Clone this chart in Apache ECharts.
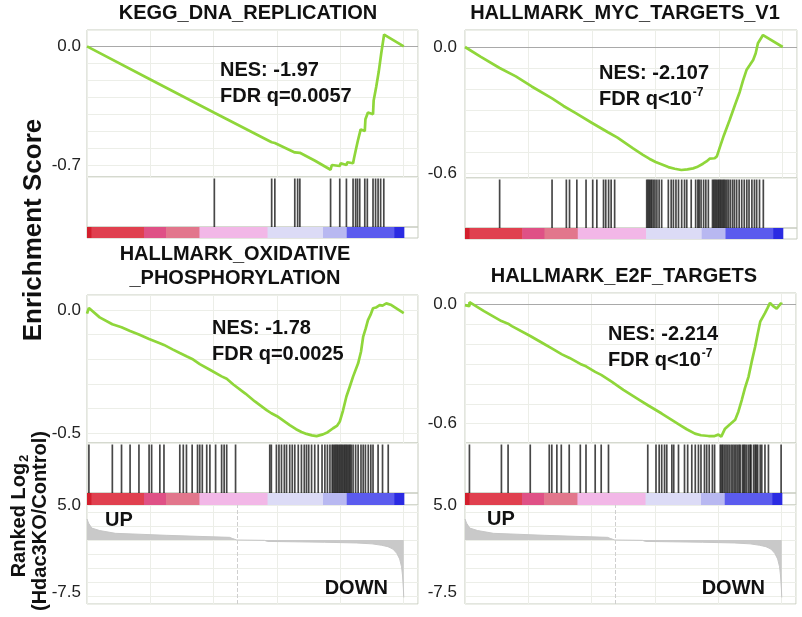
<!DOCTYPE html>
<html><head><meta charset="utf-8">
<script src="https://cdn.jsdelivr.net/npm/echarts@6/dist/echarts.min.js"></script>
<style>html,body{margin:0;padding:0;background:#fff}#c{width:802px;height:617px}</style>
</head><body><div id="c"></div>
<script>
// ---------------- DATA ----------------
const panelTitles = ['KEGG_DNA_REPLICATION', 'HALLMARK_MYC_TARGETS_V1', 'HALLMARK_OXIDATIVE\n_PHOSPHORYLATION', 'HALLMARK_E2F_TARGETS'];
const nesTexts = ['NES: -1.97', 'NES: -2.107', 'NES: -1.78', 'NES: -2.214'];
const fdrTexts = ['FDR q=0.0057', 'FDR q<10', 'FDR q=0.0025', 'FDR q<10'];
const fdrExponents = ['', '-7', '', '-7'];
const esTickLabels = [[0, -0.7], [0, -0.6], [0, -0.5], [0, -0.6]];
const rankedTickLabels = [5, -7.5];
const yTitle = 'Enrichment Score';
const rankedTitle1 = 'Ranked Log';
const rankedTitle2 = '(Hdac3KO/Control)';
const upText = 'UP';
const downText = 'DOWN';

// running enrichment score: [rank %, ES]
const esKegg = [[0,0],[20,-0.195],[40.2,-0.392],[40.2,-0.386],[58.3,-0.566],[58.3,-0.56],[59.3,-0.57],[59.3,-0.564],[65.6,-0.626],[65.6,-0.618],[66.5,-0.627],[66.5,-0.62],[67.2,-0.628],[67.2,-0.622],[72,-0.675],[76.9,-0.728],[77.3,-0.700],[77.8,-0.697],[79.8,-0.706],[80.1,-0.69],[81.9,-0.70],[82.2,-0.684],[84.0,-0.69],[84.3,-0.66],[84.8,-0.665],[85.0,-0.6],[85.4,-0.605],[85.6,-0.55],[86.1,-0.555],[86.4,-0.49],[87.7,-0.5],[87.9,-0.43],[88.5,-0.435],[88.7,-0.39],[90.3,-0.4],[90.5,-0.32],[91.1,-0.325],[91.3,-0.24],[91.9,-0.245],[92.1,-0.15],[92.7,-0.155],[92.9,-0.04],[93.5,-0.045],[93.8,0.07],[100,0.0]];
const esMyc = [[0,0],[5,-0.047],[10.9,-0.1],[11.2,-0.096],[16,-0.14],[21,-0.188],[27.4,-0.245],[31,-0.281],[35,-0.316],[40,-0.362],[45,-0.406],[48,-0.432],[52.9,-0.483],[56,-0.514],[58,-0.532],[60,-0.548],[62.4,-0.562],[64,-0.572],[66,-0.58],[68.1,-0.586],[70,-0.583],[71.8,-0.578],[73,-0.572],[74.9,-0.556],[76,-0.545],[77,-0.532],[78.6,-0.53],[79.3,-0.52],[80.2,-0.478],[81.5,-0.42],[83.3,-0.348],[85,-0.275],[86.5,-0.213],[87.5,-0.16],[88.6,-0.11],[89.7,-0.085],[90.7,-0.062],[91.5,-0.03],[92.2,0.018],[93.8,0.057],[100,0]];
const esOxphos = [[0,-0.015],[0.6,-0.02],[0.6,0.008],[4,-0.03],[8,-0.058],[8.1,-0.05],[10.9,-0.07],[11,-0.064],[13.6,-0.085],[13.7,-0.079],[16.4,-0.1],[16.5,-0.094],[19.6,-0.118],[19.7,-0.113],[23,-0.135],[24.3,-0.142],[27,-0.16],[29.3,-0.175],[31.4,-0.188],[33.2,-0.199],[35.6,-0.22],[38.8,-0.243],[42.5,-0.27],[44.1,-0.28],[46.2,-0.303],[50,-0.34],[53,-0.372],[56.7,-0.407],[58.2,-0.42],[60,-0.432],[62,-0.45],[64,-0.468],[66,-0.485],[67.7,-0.496],[69.3,-0.504],[71,-0.51],[72.5,-0.513],[74.5,-0.506],[76,-0.497],[77.7,-0.481],[79,-0.47],[79.8,-0.454],[80.8,-0.41],[81.9,-0.352],[83,-0.31],[84,-0.271],[85.6,-0.217],[86.5,-0.17],[87.2,-0.108],[88,-0.075],[88.7,-0.041],[89.5,-0.02],[90.3,0.007],[91.2,0.01],[92.4,0.02],[93.3,0.018],[94.5,0.027],[95.1,0.022],[96.1,0.02],[100,-0.013]];
const esE2f = [[0,-0.005],[1.4,-0.01],[1.4,0.01],[6,-0.035],[11.5,-0.085],[11.6,-0.08],[13.6,-0.098],[14.8,-0.11],[20.6,-0.16],[25,-0.2],[27.4,-0.222],[30.6,-0.252],[33,-0.27],[36.4,-0.3],[38.2,-0.312],[41.1,-0.34],[43,-0.355],[46.4,-0.39],[50,-0.43],[55,-0.48],[58,-0.51],[62.1,-0.549],[65,-0.578],[68,-0.608],[70,-0.628],[72.6,-0.65],[74.5,-0.658],[76.9,-0.662],[78.8,-0.662],[80,-0.655],[80.9,-0.665],[82.1,-0.625],[83.5,-0.605],[85.3,-0.58],[86.3,-0.54],[87.4,-0.48],[88.4,-0.42],[89.5,-0.365],[90.5,-0.29],[91.6,-0.214],[92.4,-0.15],[93.2,-0.088],[94.0,-0.065],[94.7,-0.045],[95.5,-0.02],[96.3,0.006],[97.3,-0.01],[98.4,-0.022],[99.8,0.005],[100,0.0]];

// gene-set hit positions (rank %)
const hitsKegg = [40.2,58.3,59.3,65.6,66.5,67.2,76.9,79.8,81.9,84.0,84.8,85.4,86.1,87.7,88.5,90.3,91.1,91.9,92.7,93.7];
const hitsMyc = [10.9,27.4,31.9,32.9,35.2,38.1,40.2,41.5,43.6,44.3,45.2,46.0,47.1,57.2,57.6,58.0,58.4,58.8,59.3,59.8,60.4,61.1,61.9,64.0,64.9,65.6,66.4,67.2,68.2,69.1,69.8,71.2,72.6,73.3,73.7,74.3,75.1,75.8,76.6,77.9,78.3,78.7,79.1,79.5,79.9,80.3,80.7,81.1,81.5,81.9,82.4,82.9,83.5,84.2,84.8,85.5,86.3,87.1,87.9,88.7,89.4,90.3,91.1,91.8,92.7,93.9];
const hitsOxphos = [0.6,8.0,10.9,13.6,16.4,19.6,20.4,23.0,24.3,29.3,30.4,31.4,33.2,34.9,35.6,36.4,37.8,38.8,40.6,42.5,43.3,44.1,46.9,57.7,58.2,59.8,60.6,61.4,62.3,63.0,64.0,64.8,65.6,66.7,67.7,68.6,69.3,70.0,70.9,71.9,73.0,74.2,75.1,75.9,76.7,77.4,77.8,78.2,78.6,79.0,79.4,79.8,80.2,80.6,81.0,81.4,81.8,82.2,82.6,83.0,83.4,84.0,84.8,85.6,86.5,87.2,87.9,88.8,89.6,90.3,91.9,93.3,95.1];
const hitsE2f = [1.4,11.5,13.6,20.6,26.6,27.4,29.0,30.4,32.9,36.4,38.2,41.1,43.0,45.3,57.7,60.3,61.3,62.1,63.0,63.7,65.3,65.9,67.4,69.3,70.3,71.6,72.7,73.7,74.5,75.6,76.3,77.1,78.1,78.8,80.6,81.0,81.4,81.9,82.4,82.9,83.4,84.0,84.5,85.0,85.5,86.0,86.5,86.9,87.6,88.0,88.4,88.9,89.5,90.0,90.3,91.1,91.6,92.0,92.4,93.2,93.7,94.7,95.8,99.8];

// ranked list metric (rank %, value)
const rankedList = [[0,3.0],[0.5,2.4],[1.5,1.7],[4,1.35],[9,0.95],[14.5,0.86],[25,0.67],[35,0.52],[45,0.38],[46,0.2],[47.3,0],[56,-0.05],[57,-0.2],[65,-0.25],[75,-0.32],[85,-0.42],[90,-0.55],[93,-0.75],[95,-0.95],[96.6,-1.3],[97.8,-1.9],[98.7,-2.7],[99.3,-3.8],[99.6,-5.0],[99.9,-7.0],[100,-8.2]];
const rankedZeroCross = 47.3;

// colour bar of the ranked metric
const colorBarEdges = [0, 1.4, 18, 25, 35.5, 57, 74.5, 82, 97, 100];
const colorBarColors = ['#d31f2d', '#e0404f', '#df5186', '#e2768c', '#f2b7e7', '#dcdbf6', '#b8b8f1', '#5b5bee', '#2b2be2'];

const esData = [esKegg, esMyc, esOxphos, esE2f];
const hitsData = [hitsKegg, hitsMyc, hitsOxphos, hitsE2f];

// ---------------- LAYOUT ----------------
const FONT = '"Liberation Sans", Arial, Helvetica, sans-serif';
const layout = [
  {left: 87, width: 331, es: {top: 30, h: 147, min: -0.771, max: 0.097}, hits: {top: 177, h: 50}, bar: {top: 227, h: 11}, ranked: null, zero: true, labelMargin: 6,
   title: {x: 248, y: 13}, nes: {x: 220, y: 70}, up: null},
  {left: 465, width: 332, es: {top: 30, h: 148, min: -0.624, max: 0.081}, hits: {top: 178, h: 50}, bar: {top: 228, h: 11}, ranked: null, zero: true, labelMargin: 8,
   title: {x: 625, y: 13}, nes: {x: 599, y: 73}, up: null},
  {left: 87, width: 331, es: {top: 295, h: 148, min: -0.541, max: 0.061}, hits: {top: 443, h: 50}, bar: {top: 493, h: 12}, ranked: {top: 505, h: 99}, zero: false, labelMargin: 6,
   title: {x: 235, y: 266}, nes: {x: 212, y: 328}, up: {x: 105, y: 520}, down: {x: 388, y: 588}},
  {left: 465, width: 331, es: {top: 293, h: 150, min: -0.697, max: 0.056}, hits: {top: 443, h: 50}, bar: {top: 493, h: 12}, ranked: {top: 505, h: 99}, zero: true, labelMargin: 8,
   title: {x: 624, y: 276}, nes: {x: 608, y: 334}, up: {x: 487, y: 519}, down: {x: 765, y: 588}}
];
const XMAX = 104.5;
const BORDER = '#c7ccbf';
const SPLIT = '#eceee8';

const grid = [], xAxis = [], yAxis = [], series = [];
function addGrid(left, width, top, height, xSplit) {
  grid.push({left, width, top, height, show: true, borderColor: BORDER, borderWidth: 1, backgroundColor: 'rgba(0,0,0,0)', containLabel: false});
  const g = grid.length - 1;
  xAxis.push({gridIndex: g, type: 'value', min: 0, max: XMAX, interval: 20,
    axisLine: {show: false}, axisTick: {show: false}, axisLabel: {show: false},
    splitLine: {show: xSplit, lineStyle: {color: SPLIT, width: 1}}});
  return g;
}

layout.forEach((L, i) => {
  // ES panel
  let g = addGrid(L.left, L.width, L.es.top, L.es.h, true);
  yAxis.push({gridIndex: g, type: 'value', min: L.es.min, max: L.es.max, splitNumber: 8,
    axisLine: {show: false}, axisTick: {show: false},
    axisLabel: {customValues: esTickLabels[i], formatter: v => v.toFixed(1), fontSize: 17, color: '#222', fontFamily: FONT, margin: L.labelMargin},
    splitLine: {show: true, lineStyle: {color: SPLIT, width: 1}}});
  series.push({type: 'line', xAxisIndex: g, yAxisIndex: g, data: esData[i], showSymbol: false, animation: false, z: 5,
    lineStyle: {color: '#8fd63a', width: 2.7},
    markLine: L.zero ? {silent: true, symbol: 'none', label: {show: false}, animation: false,
      lineStyle: {color: '#a9a9a9', width: 1, type: 'solid'}, data: [{yAxis: 0}]} : undefined});

  // hits
  g = addGrid(L.left, L.width, L.hits.top, L.hits.h, false);
  yAxis.push({gridIndex: g, type: 'value', min: 0, max: 1, show: false});
  series.push({type: 'custom', xAxisIndex: g, yAxisIndex: g, data: hitsData[i].map(v => [v]), animation: false,
    renderItem: (params, api) => {
      const p0 = api.coord([api.value(0), 0.97]);
      const p1 = api.coord([api.value(0), 0]);
      return {type: 'line', shape: {x1: p0[0], y1: p0[1], x2: p1[0], y2: p1[1]},
        style: {stroke: '#000', lineWidth: 1.7, opacity: 0.72}};
    }});

  // colour bar
  g = addGrid(L.left, L.width, L.bar.top, L.bar.h, false);
  yAxis.push({gridIndex: g, type: 'value', min: 0, max: 1, show: false});
  series.push({type: 'custom', xAxisIndex: g, yAxisIndex: g, animation: false,
    data: colorBarColors.map((c, k) => [colorBarEdges[k], colorBarEdges[k + 1], k]),
    renderItem: (params, api) => {
      const p0 = api.coord([api.value(0), 1]);
      const p1 = api.coord([api.value(1), 0]);
      return {type: 'rect', shape: {x: p0[0], y: p0[1], width: p1[0] - p0[0] + 0.6, height: p1[1] - p0[1]},
        style: {fill: colorBarColors[api.value(2)]}};
    }});

  // ranked list
  if (L.ranked) {
    g = addGrid(L.left, L.width, L.ranked.top, L.ranked.h, true);
    yAxis.push({gridIndex: g, type: 'value', min: -9.14, max: 5, splitNumber: 7,
      axisLine: {show: false}, axisTick: {show: false},
      axisLabel: {customValues: rankedTickLabels, formatter: v => v.toFixed(1), fontSize: 17, color: '#222', fontFamily: FONT, margin: L.labelMargin},
      splitLine: {show: true, lineStyle: {color: SPLIT, width: 1}}});
    series.push({type: 'line', xAxisIndex: g, yAxisIndex: g, data: rankedList, showSymbol: false, animation: false,
      lineStyle: {color: '#c6c6c6', width: 1}, areaStyle: {color: '#c9c9c9', opacity: 1, origin: 0},
      markLine: {silent: true, symbol: 'none', label: {show: false}, animation: false,
        lineStyle: {color: '#cfcfcf', width: 1, type: 'dashed'}, data: [{xAxis: rankedZeroCross}]}});
  }
});

// ---------------- TEXT ----------------
const graphic = [];
function txt(x, y, text, font, align, extra) {
  graphic.push(Object.assign({type: 'text', x, y, silent: true, z: 100,
    style: {text, font, fill: '#111', align: align, verticalAlign: 'middle', textAlign: align, textVerticalAlign: 'middle', lineHeight: 24}}, extra || {}));
}
layout.forEach((L, i) => {
  txt(L.title.x, L.title.y, panelTitles[i], 'bold 20px ' + FONT, 'center');
  txt(L.nes.x, L.nes.y, nesTexts[i], 'bold 20px ' + FONT, 'left');
  const fdr = fdrExponents[i] ? '{a|' + fdrTexts[i] + '}{s|' + fdrExponents[i] + '}' : '{a|' + fdrTexts[i] + '}';
  graphic.push({type: 'text', x: L.nes.x, y: L.nes.y + 24, silent: true, z: 100,
    style: {text: fdr, align: 'left', verticalAlign: 'middle', textAlign: 'left', textVerticalAlign: 'middle',
      rich: {a: {fontSize: 20, fontWeight: 'bold', fontFamily: FONT, fill: '#111', lineHeight: 24, verticalAlign: 'bottom'},
             s: {fontSize: 12, fontWeight: 'bold', fontFamily: FONT, fill: '#111', lineHeight: 24, verticalAlign: 'bottom', padding: [0, 0, 10, 1]}}}});
  if (L.up) {
    txt(L.up.x, L.up.y, upText, 'bold 20px ' + FONT, 'left');
    txt(L.down.x, L.down.y, downText, 'bold 20px ' + FONT, 'right');
  }
});
txt(34, 230, yTitle, 'bold 26px ' + FONT, 'center', {rotation: Math.PI / 2});
graphic.push({type: 'text', x: 17, y: 516, rotation: Math.PI / 2, silent: true, z: 100,
  style: {text: '{a|' + rankedTitle1 + '}{s|2}', align: 'center', verticalAlign: 'middle', textAlign: 'center', textVerticalAlign: 'middle',
    rich: {a: {fontSize: 20, fontWeight: 'bold', fontFamily: FONT, fill: '#111', lineHeight: 24, verticalAlign: 'bottom'},
           s: {fontSize: 13, fontWeight: 'bold', fontFamily: FONT, fill: '#111', lineHeight: 24, verticalAlign: 'bottom', padding: [0, 0, -2, 1]}}}});
txt(40, 521, rankedTitle2, 'bold 20px ' + FONT, 'center', {rotation: Math.PI / 2});

const chart = echarts.init(document.getElementById('c'), null, {renderer: 'canvas'});
chart.setOption({animation: false, backgroundColor: '#fff', textStyle: {fontFamily: FONT},
  grid, xAxis, yAxis, series, graphic});
</script></body></html>
